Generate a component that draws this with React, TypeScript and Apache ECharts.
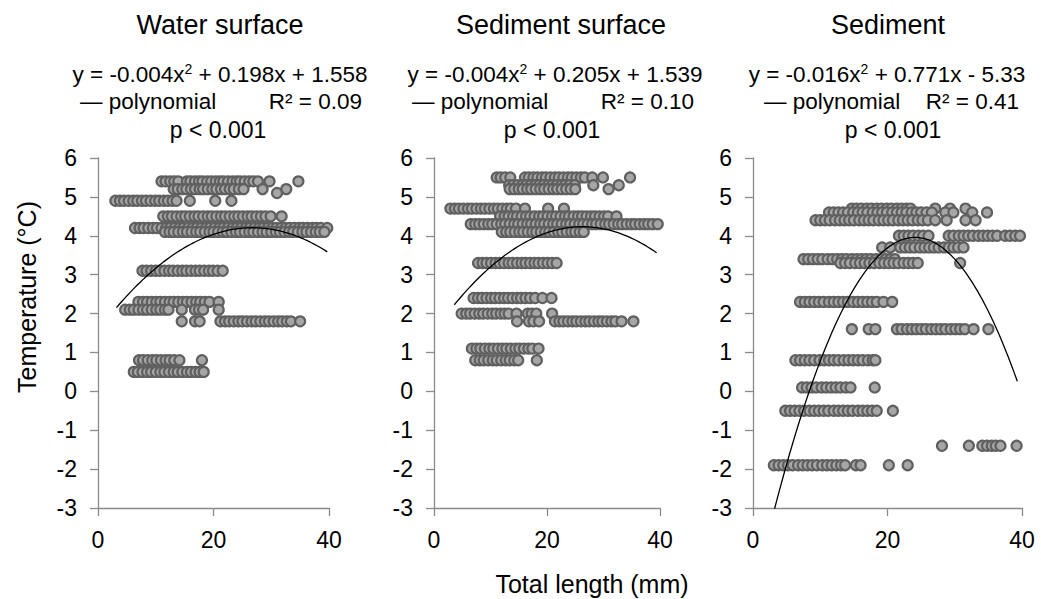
import React, { useEffect, useRef } from 'react';
import * as echarts from 'echarts';

// Each row: [temperature (°C), total lengths (mm) of the fish recorded at it]
type Row = [number, number[]];

const panelTitles = ['Water surface', 'Sediment surface', 'Sediment'];

const waterSurfaceRows: Row[] = [
  [5.4, [11.0, 11.7, 12.5, 13.2, 13.9, 15.4, 16.0, 16.8, 17.5, 18.1, 18.9, 19.6, 20.4, 21.1, 21.7, 22.5, 23.3, 24.0, 24.6, 25.4, 26.2, 26.9, 27.7, 29.7, 34.7]],
  [5.2, [13.1, 13.8, 14.6, 15.3, 16.1, 16.8, 17.6, 18.2, 19.0, 19.8, 20.5, 21.3, 22.0, 22.8, 23.5, 24.4, 25.2, 28.5, 32.6]],
  [5.1, [31.0]],
  [4.9, [3.0, 3.8, 4.5, 5.3, 6.1, 6.8, 7.6, 8.3, 9.1, 9.9, 10.6, 11.4, 12.1, 12.9, 13.6, 15.9, 20.3, 23.1]],
  [4.5, [11.3, 12.1, 12.8, 13.6, 14.4, 15.1, 15.9, 16.7, 17.4, 18.2, 19.0, 19.7, 20.5, 21.3, 22.0, 22.8, 23.6, 24.3, 25.1, 25.9, 26.6, 27.4, 28.2, 29.0, 29.9, 31.8]],
  [4.2, [6.4, 7.2, 7.9, 8.7, 9.5, 10.2, 11.0, 11.8, 12.5, 13.3, 14.1, 14.8, 15.6, 16.4, 17.1, 17.9, 18.7, 19.4, 20.2, 21.0, 21.7, 22.5, 23.3, 24.0, 24.8, 25.6, 26.3, 27.1, 27.9, 28.6, 29.4, 30.2, 30.9, 31.7, 32.5, 33.2, 34.0, 34.8, 35.5, 36.3, 37.1, 37.8, 38.6, 39.7]],
  [4.1, [11.6, 12.4, 13.1, 13.9, 14.7, 15.4, 16.2, 17.0, 17.7, 18.5, 19.3, 20.0, 20.8, 21.6, 22.3, 23.1, 23.9, 24.6, 25.4, 26.2, 26.9, 27.7, 28.5, 29.2, 30.0, 30.8, 31.5, 32.3, 33.1, 33.8, 34.6, 35.4, 36.1, 36.9, 37.7, 38.4, 39.2]],
  [3.1, [7.7, 8.4, 9.2, 10.0, 10.7, 11.5, 12.3, 13.0, 13.8, 14.6, 15.3, 16.1, 16.9, 17.6, 18.4, 19.2, 19.9, 20.7, 21.6]],
  [2.3, [7.0, 7.8, 8.5, 9.3, 10.1, 10.8, 11.6, 12.4, 13.1, 13.9, 14.7, 15.4, 16.2, 17.0, 17.7, 18.5, 19.3, 20.9]],
  [2.1, [4.7, 5.5, 6.2, 7.0, 7.8, 8.5, 9.3, 10.1, 10.8, 11.6, 12.2, 14.5, 16.8, 17.5, 18.2, 20.9]],
  [1.8, [14.5, 16.8, 17.6, 21.2, 22.0, 22.7, 23.5, 24.3, 25.0, 25.8, 26.6, 27.3, 28.1, 28.9, 29.6, 30.4, 31.2, 31.9, 32.7, 33.4, 35.0]],
  [0.8, [7.1, 7.8, 8.6, 9.4, 10.1, 10.9, 11.7, 12.4, 13.2, 14.1, 18.0]],
  [0.5, [6.2, 6.9, 7.7, 8.5, 9.2, 10.0, 10.8, 11.5, 12.3, 13.1, 13.8, 14.6, 15.4, 16.1, 16.9, 17.6, 18.3]],
];

const sedimentSurfaceRows: Row[] = [
  [5.5, [11.1, 11.8, 12.6, 13.5, 16.1, 16.8, 17.6, 18.3, 19.1, 19.8, 20.6, 21.4, 22.1, 22.9, 23.7, 24.4, 25.2, 26.0, 26.7, 28.0, 29.9, 34.7]],
  [5.3, [13.3, 14.0, 14.8, 15.6, 16.3, 17.1, 17.9, 18.6, 19.4, 20.2, 20.9, 21.7, 22.5, 23.2, 24.0, 24.9, 28.2, 32.7]],
  [5.2, [13.4, 14.2, 15.0, 15.7, 16.5, 17.2, 18.0, 18.8, 19.5, 20.3, 21.1, 21.8, 22.6, 23.4, 24.2, 25.0, 30.9]],
  [4.7, [2.9, 3.7, 4.4, 5.2, 6.0, 6.7, 7.5, 8.3, 9.0, 9.8, 10.6, 11.3, 12.1, 12.9, 13.6, 14.5, 16.1, 20.2, 23.0]],
  [4.5, [11.7, 12.5, 13.2, 14.0, 14.7, 15.5, 16.3, 17.0, 17.8, 18.6, 19.3, 20.1, 20.9, 21.6, 22.4, 23.2, 23.9, 24.7, 25.5, 26.2, 27.0, 27.8, 28.5, 29.3, 30.1, 30.8, 32.3]],
  [4.3, [6.5, 7.3, 8.0, 8.8, 9.6, 10.3, 11.1, 11.9, 12.6, 13.4, 14.2, 14.9, 15.7, 16.5, 17.2, 18.0, 18.8, 19.5, 20.3, 21.1, 21.8, 22.6, 23.4, 24.1, 24.9, 25.7, 26.4, 27.2, 28.0, 28.7, 29.5, 30.3, 31.0, 31.8, 32.6, 33.3, 34.1, 34.9, 35.6, 36.4, 37.2, 37.9, 38.7, 39.6]],
  [4.1, [12.0, 12.8, 13.5, 14.3, 15.1, 15.8, 16.6, 17.4, 18.1, 18.9, 19.7, 20.4, 21.2, 22.0, 22.7, 23.5, 24.3, 25.0, 25.8, 26.5]],
  [3.3, [7.8, 8.6, 9.3, 10.1, 10.9, 11.6, 12.4, 13.2, 13.9, 14.7, 15.5, 16.2, 17.0, 17.8, 18.5, 19.3, 20.1, 20.9, 21.7]],
  [2.4, [7.0, 7.8, 8.5, 9.3, 10.1, 10.8, 11.6, 12.4, 13.1, 13.9, 14.7, 15.4, 16.2, 17.0, 17.9, 19.2, 20.8]],
  [2.0, [4.9, 5.7, 6.4, 7.2, 8.0, 8.7, 9.5, 10.3, 11.0, 11.8, 12.5, 13.2, 14.6, 16.6, 17.3, 18.1, 20.9]],
  [1.8, [14.7, 16.8, 17.6, 18.6, 21.4, 22.2, 22.9, 23.7, 24.5, 25.2, 26.0, 26.8, 27.5, 28.3, 29.1, 29.8, 30.6, 31.4, 32.1, 33.2, 35.3]],
  [1.1, [6.7, 7.5, 8.2, 9.0, 9.8, 10.5, 11.3, 12.1, 12.8, 13.6, 14.4, 15.1, 15.9, 16.7, 17.4, 18.5]],
  [0.8, [7.3, 8.1, 8.8, 9.6, 10.4, 11.1, 11.9, 12.7, 13.4, 14.2, 14.9, 18.2]],
];

const sedimentRows: Row[] = [
  [4.7, [14.7, 15.4, 16.1, 16.9, 17.6, 18.4, 19.1, 19.9, 20.6, 21.4, 22.1, 22.8, 23.4, 27.1, 29.3, 31.6]],
  [4.6, [11.3, 12.0, 12.7, 13.4, 14.1, 14.9, 15.6, 16.3, 17.0, 17.8, 18.5, 19.2, 19.9, 20.7, 21.4, 22.1, 22.8, 23.6, 24.3, 25.0, 25.8, 26.6, 28.6, 29.8, 32.6, 34.8]],
  [4.4, [9.3, 10.0, 10.7, 11.4, 12.2, 12.9, 13.6, 14.3, 15.0, 15.8, 16.5, 17.2, 17.9, 18.7, 19.4, 20.1, 20.8, 21.6, 22.3, 23.0, 23.7, 24.5, 25.2, 26.0, 27.1, 28.8, 31.6, 33.1]],
  [4.0, [21.7, 22.4, 23.1, 23.8, 24.6, 25.3, 26.1, 29.1, 29.8, 30.6, 31.3, 32.0, 32.7, 33.5, 34.2, 34.9, 35.6, 36.3, 37.5, 38.2, 39.0, 39.7]],
  [3.7, [19.2, 20.4, 21.9, 22.6, 23.3, 24.0, 24.8, 25.5, 26.2, 26.9, 27.6, 28.4, 29.1, 29.8, 30.5, 31.3]],
  [3.4, [7.5, 8.2, 8.9, 9.6, 10.3, 11.1, 11.8, 12.5, 13.2, 13.9, 14.7, 15.4, 16.1, 16.8, 17.5, 18.3, 19.0, 19.7, 20.4, 21.1]],
  [3.3, [13.0, 13.7, 14.4, 15.2, 15.9, 16.6, 17.3, 18.0, 18.8, 19.5, 20.2, 20.9, 21.6, 22.4, 23.1, 23.8, 24.5, 30.8]],
  [2.3, [7.0, 7.7, 8.4, 9.1, 9.8, 10.5, 11.3, 12.0, 12.7, 13.4, 14.1, 14.9, 15.6, 16.3, 17.0, 17.7, 18.4, 19.4, 20.7]],
  [1.6, [14.7, 17.2, 18.2, 21.4, 22.1, 22.9, 23.6, 24.3, 25.0, 25.7, 26.5, 27.2, 27.9, 28.6, 29.4, 30.1, 30.8, 31.5, 32.8, 35.0]],
  [0.8, [6.3, 7.0, 7.7, 8.4, 9.1, 9.9, 10.6, 11.3, 12.0, 12.7, 13.5, 14.2, 14.9, 15.6, 16.3, 17.1, 17.8, 18.2]],
  [0.1, [7.3, 8.0, 8.7, 9.4, 10.2, 10.9, 11.6, 12.3, 13.0, 13.8, 14.5, 18.1]],
  [-0.5, [4.8, 5.5, 6.2, 6.9, 7.6, 8.4, 9.1, 9.8, 10.5, 11.2, 12.0, 12.7, 13.4, 14.1, 14.8, 15.6, 16.3, 17.0, 17.7, 18.4, 20.8]],
  [-1.4, [28.1, 32.1, 34.1, 34.8, 35.5, 36.1, 36.8, 39.2]],
  [-1.9, [3.1, 3.8, 4.5, 5.2, 5.9, 6.7, 7.4, 8.1, 8.8, 9.5, 10.3, 11.0, 11.7, 12.4, 13.1, 13.7, 15.3, 16.0, 20.2, 23.0]],
];

// Quadratic trend y = a·x² + b·x + c (coefficients before rounding for the printed equation)
const waterSurfaceFit = [-0.0037, 0.198, 1.558];
const sedimentSurfaceFit = [-0.0039, 0.205, 1.539];
const sedimentFit = [-0.016, 0.771, -5.33];
// Length range each trend line covers (mm)
const fitSpans = [[3.2, 39.7], [3.6, 39.4], [3.2, 39.3]];

// Printed equation split around the superscript
const equationHeads = ['y = -0.004x', 'y = -0.004x', 'y = -0.016x'];
const equationTails = [' + 0.198x + 1.558', ' + 0.205x + 1.539', ' + 0.771x - 5.33'];
const rSquaredLabels = ['R² = 0.09', 'R² = 0.10', 'R² = 0.41'];
const pValueLabel = 'p < 0.001';

const xAxisName = 'Total length (mm)';
const yAxisName = 'Temperature (°C)';
const xMin = 0, xMax = 40, xStep = 20;
const yMin = -3, yMax = 6, yStep = 1;

const FONT = '"Liberation Sans", Arial, sans-serif';
const AXIS_GREY = '#8a8a8a';

// Plot frames (page pixels)
const plotTop = 158;
const plotHeight = 350;
const frames = [
  { left: 98, width: 231 },
  { left: 434, width: 226 },
  { left: 753, width: 269 },
];
// Header text anchors per panel
const headers = [
  { title: 220, eq: 220, polyLeft: 80, rRight: 362, p: 218 },
  { title: 561, eq: 555, polyLeft: 412, rRight: 694, p: 552 },
  { title: 888, eq: 887, polyLeft: 764, rRight: 1019, p: 893 },
];

const panelRows = [waterSurfaceRows, sedimentSurfaceRows, sedimentRows];
const panelFits = [waterSurfaceFit, sedimentSurfaceFit, sedimentFit];

function trendPoints(fit: number[], span: number[]): number[][] {
  const [a, b, c] = fit;
  const steps = 80;
  const pts: number[][] = [];
  for (let k = 0; k <= steps; k++) {
    const x = span[0] + ((span[1] - span[0]) * k) / steps;
    pts.push([x, a * x * x + b * x + c]);
  }
  return pts;
}

function textEl(text: string, x: number, y: number, size: number, align: string, extra: any = {}) {
  return {
    type: 'text',
    x,
    y,
    silent: true,
    ...extra,
    style: {
      text,
      fill: '#000',
      fontSize: size,
      fontFamily: FONT,
      align,
      verticalAlign: 'middle',
      textAlign: align,
      textVerticalAlign: 'middle',
    },
  };
}

export default function App() {
  const ref = useRef<HTMLDivElement>(null);

  useEffect(() => {
    if (!ref.current) return;
    const chart = echarts.init(ref.current, undefined, { renderer: 'svg' });

    const grid = frames.map((f) => ({ left: f.left, width: f.width, top: plotTop, height: plotHeight }));

    const xAxis = frames.map((_, i) => ({
      type: 'value',
      gridIndex: i,
      min: xMin,
      max: xMax,
      interval: xStep,
      splitLine: { show: false },
      axisLine: { show: true, onZero: false, lineStyle: { color: AXIS_GREY, width: 1.3 } },
      axisTick: { show: true, inside: false, length: 8, lineStyle: { color: AXIS_GREY, width: 1.3 } },
      axisLabel: { color: '#000', fontSize: 23, fontFamily: FONT, margin: 20 },
    }));

    const yAxis = frames.map((_, i) => ({
      type: 'value',
      gridIndex: i,
      min: yMin,
      max: yMax,
      interval: yStep,
      splitLine: { show: false },
      axisLine: { show: true, onZero: false, lineStyle: { color: AXIS_GREY, width: 1.3 } },
      axisTick: { show: true, inside: false, length: 8, lineStyle: { color: AXIS_GREY, width: 1.3 } },
      axisLabel: { color: '#000', fontSize: 23, fontFamily: FONT, margin: 21 },
    }));

    const series: any[] = [];
    panelRows.forEach((rows, i) => {
      series.push({
        type: 'scatter',
        xAxisIndex: i,
        yAxisIndex: i,
        symbol: 'circle',
        symbolSize: 10,
        silent: true,
        itemStyle: { color: '#a6a6a6', borderColor: '#606060', borderWidth: 2.2, opacity: 1 },
        data: rows.flatMap(([t, lengths]) => lengths.map((len) => [len, t])),
        z: 2,
      });
    });
    panelFits.forEach((fit, i) => {
      series.push({
        type: 'line',
        xAxisIndex: i,
        yAxisIndex: i,
        showSymbol: false,
        silent: true,
        clip: true,
        lineStyle: { color: '#000', width: 1.3 },
        data: trendPoints(fit, fitSpans[i]),
        z: 3,
      });
    });

    const graphics: any[] = [];
    headers.forEach((h, i) => {
      graphics.push(textEl(panelTitles[i], h.title, 25, 27, 'center'));
      graphics.push({
        type: 'text',
        x: h.eq,
        y: 74,
        silent: true,
        style: {
          text: `{m|${equationHeads[i]}}{s|2}{m|${equationTails[i]}}`,
          fill: '#000',
          align: 'center',
          verticalAlign: 'middle',
          textAlign: 'center',
          textVerticalAlign: 'middle',
          rich: {
            m: { fontSize: 22.5, fontFamily: FONT, lineHeight: 24 },
            s: { fontSize: 14, fontFamily: FONT, lineHeight: 16, verticalAlign: 'top' },
          },
        },
      });
      graphics.push(textEl('— polynomial', h.polyLeft, 101, 22.5, 'left'));
      graphics.push(textEl(rSquaredLabels[i], h.rRight, 101, 22.5, 'right'));
      graphics.push(textEl(pValueLabel, h.p, 130, 23, 'center'));
    });
    graphics.push(textEl(yAxisName, 27, 297, 25, 'center', { rotation: Math.PI / 2 }));
    graphics.push(textEl(xAxisName, 592, 584, 25, 'center'));

    chart.setOption({
      animation: false,
      backgroundColor: '#fff',
      grid,
      xAxis,
      yAxis,
      series,
      graphic: { elements: graphics },
    });

    return () => chart.dispose();
  }, []);

  return (
    <div
      ref={ref}
      style={{ position: 'fixed', left: 0, top: 0, width: 1041, height: 599, background: '#fff' }}
    />
  );
}
